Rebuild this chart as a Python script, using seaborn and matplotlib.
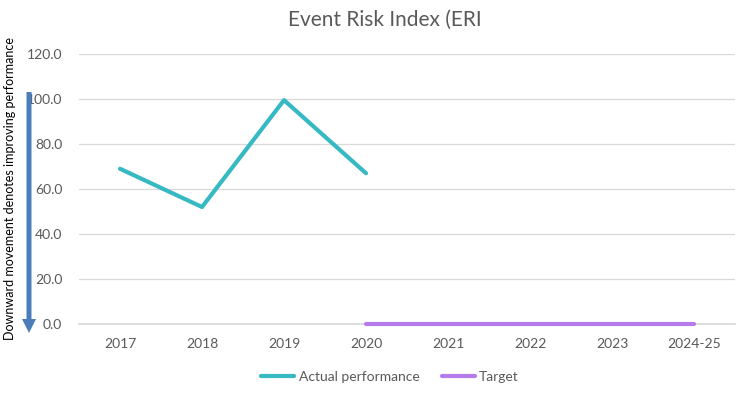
import pandas as pd
import numpy as np
import matplotlib
matplotlib.use('Agg')
import matplotlib.pyplot as plt
import seaborn as sns
from matplotlib.patches import FancyArrow

# values
years_actual = ['2017', '2018', '2019', '2020']
actual = [69.0, 52.0, 99.5, 67.0]
years_target = ['2020', '2021', '2022', '2023', '2024-25']
target = [0.0, 0.0, 0.0, 0.0, 0.0]
yticks = [0, 20, 40, 60, 80, 100, 120]

df_actual = pd.DataFrame({'year': years_actual, 'value': actual})
df_target = pd.DataFrame({'year': years_target, 'value': target})

sns.set_theme(style='white')
plt.rcParams['font.family'] = ['Lato', 'DejaVu Sans']

fig = plt.figure(figsize=(7.48, 3.94), dpi=100)
ax = fig.add_axes([79 / 748, 1 - 324 / 394, (735 - 79) / 748, (324 - 54) / 394])

grey = '#595959'
sns.lineplot(data=df_actual, x='year', y='value', ax=ax, color='#36B9C2',
             linewidth=3, label='Actual performance', sort=False)
sns.lineplot(data=df_target, x='year', y='value', ax=ax, color='#B57BEA',
             linewidth=3, label='Target', sort=False, clip_on=False, zorder=5)

ax.set_xlim(-0.5, 7.5)
ax.set_ylim(0, 120)
ax.set_yticks(yticks)
ax.set_yticklabels([f'{v:.1f}' for v in yticks])
ax.yaxis.grid(True, color='#D9D9D9', linewidth=0.9)
ax.set_axisbelow(True)
for s in ['top', 'right', 'left']:
    ax.spines[s].set_visible(False)
ax.spines['bottom'].set_color('#D9D9D9')
ax.tick_params(axis='both', length=0, labelsize=10, colors=grey)
ax.tick_params(axis='x', pad=10)
ax.tick_params(axis='y', pad=12)
ax.set_xlabel('')
ax.set_ylabel('')

fig.text(0.515, 1 - 20 / 394, 'Event Risk Index (ERI', ha='center', va='center',
         fontsize=15, color=grey)

# side note with downward arrow
fig.text(10 / 748, 1 - 188 / 394, 'Downward movement denotes improving performance',
         rotation=90, ha='center', va='center', fontsize=9, color='black')
arr = FancyArrow(29 / 748, 1 - 92 / 394, 0, -(333 - 92) / 394, width=5 / 748,
                 head_width=14 / 748, head_length=14 / 394,
                 length_includes_head=True, transform=fig.transFigure,
                 color='#4A7EBB', ec='none')
fig.patches.append(arr)

leg = ax.legend(loc='center', bbox_to_anchor=(390 / 748, 1 - 377 / 394),
                bbox_transform=fig.transFigure, ncol=2, frameon=False,
                fontsize=10, handlelength=2.4, columnspacing=1.6, handletextpad=0.3)
for t in leg.get_texts():
    t.set_color(grey)

fig.savefig('out.png', dpi=100)
